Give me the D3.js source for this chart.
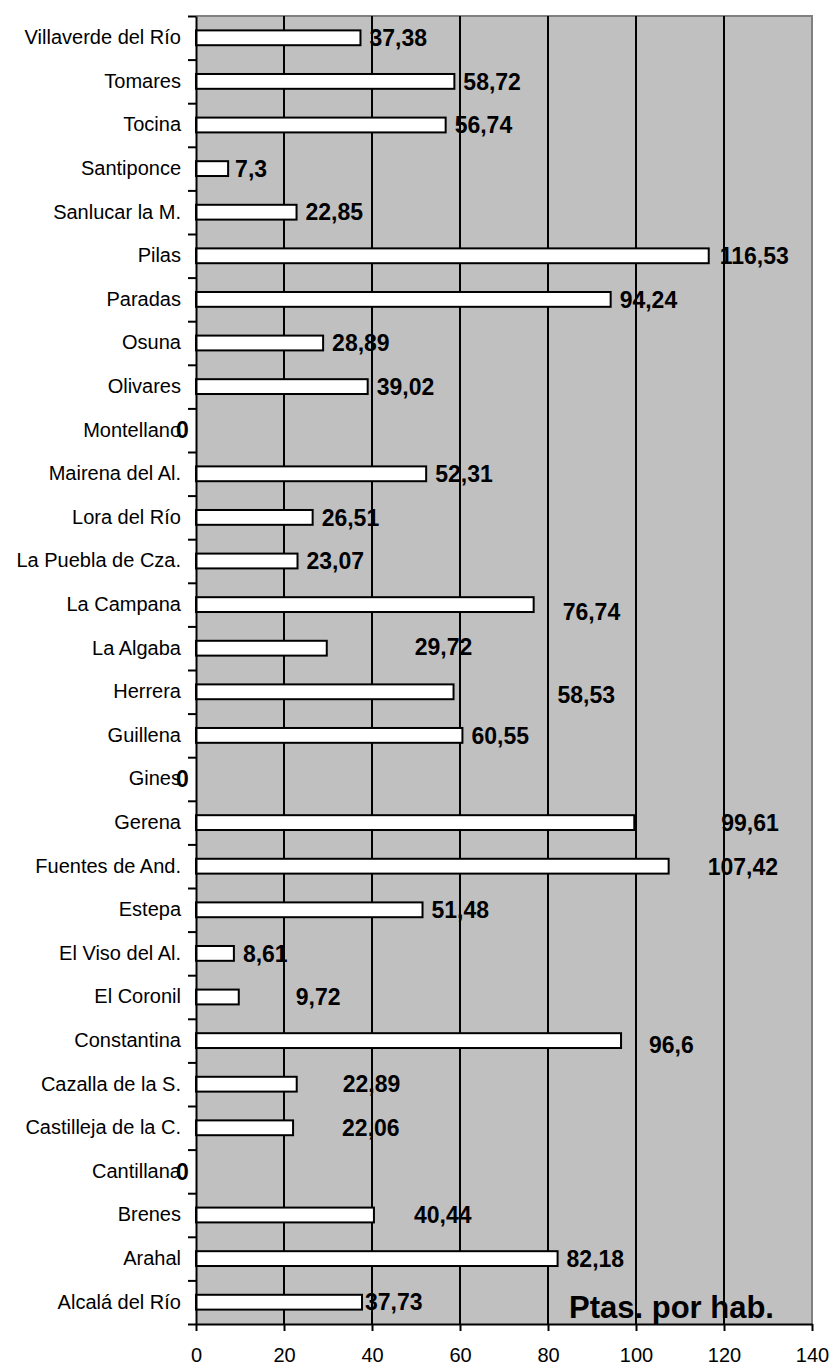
<!DOCTYPE html>
<html>
<head>
<meta charset="utf-8">
<script src="https://cdn.jsdelivr.net/npm/d3@7"></script>
<style>
  body { margin: 0; background: #fff; }
  text { font-family: "Liberation Sans", Arial, sans-serif; fill: #000; }
</style>
</head>
<body>
<svg id="chart" width="833" height="1365"></svg>
<script>
// Municipios, de arriba abajo, y su valor en pesetas por habitante
var municipios = ["Villaverde del Río", "Tomares", "Tocina", "Santiponce", "Sanlucar la M.",
	"Pilas", "Paradas", "Osuna", "Olivares", "Montellano", "Mairena del Al.", "Lora del Río",
	"La Puebla de Cza.", "La Campana", "La Algaba", "Herrera", "Guillena", "Gines", "Gerena",
	"Fuentes de And.", "Estepa", "El Viso del Al.", "El Coronil", "Constantina",
	"Cazalla de la S.", "Castilleja de la C.", "Cantillana", "Brenes", "Arahal", "Alcalá del Río"];
var ptasPorHab = [37.38, 58.72, 56.74, 7.3, 22.85, 116.53, 94.24, 28.89, 39.02, 0, 52.31, 26.51,
	23.07, 76.74, 29.72, 58.53, 60.55, 0, 99.61, 107.42, 51.48, 8.61, 9.72, 96.6,
	22.89, 22.06, 0, 40.44, 82.18, 37.73];
var xTicks = [0, 20, 40, 60, 80, 100, 120, 140];
var unidad = "Ptas. por hab.";

// labels that were dragged around by hand in the original (px nudge)
var labelNudge = [[0, 0], [0, 0], [0, 0], [-2, 0], [0, 0], [2, 0], [0, 0], [0, 0], [0, 0], [-29, 0],
	[0, 0], [0, 0], [0, 0], [20, 7], [79, -1], [95, 3], [0, 0], [-29, 0], [78, 0], [30, 1],
	[0, 0], [0, 0], [48, 0], [19, 4], [37, 0], [40, 0], [-29, 0], [31, 0], [0, 0], [-6, 0]];

var plotLeft = 196, plotRight = 812, plotTop = 16, plotBottom = 1324;

var svg = d3.select("#chart");

var x = d3.scaleLinear().domain([0, 140]).range([plotLeft, plotRight]);
var p = 0.66;
var y = d3.scaleBand().domain(municipios).range([plotTop, plotBottom]).paddingInner(p).paddingOuter(p / 2);
var yEdge = d3.scaleLinear().domain([0, municipios.length]).range([plotTop, plotBottom]);

var locale = d3.formatLocale({decimal: ",", thousands: ".", grouping: [3], currency: ["", ""]});
var fmt = locale.format("~g");

var idx = d3.range(municipios.length);

// plot area
svg.append("rect").attr("x", plotLeft).attr("y", plotTop)
	.attr("width", plotRight - plotLeft).attr("height", plotBottom - plotTop)
	.style("fill", "#c0c0c0");
svg.append("path").attr("d", "M" + plotLeft + "," + plotTop + "H" + plotRight + "V" + plotBottom)
	.style("fill", "none").style("stroke", "#808080").style("stroke-width", 2);

// gridlines
svg.selectAll("line.grid").data(xTicks.filter(function(t) { return t > 0 && t < 140; }))
	.enter().append("line").attr("class", "grid")
	.attr("x1", function(d) { return x(d); }).attr("x2", function(d) { return x(d); })
	.attr("y1", plotTop).attr("y2", plotBottom)
	.style("stroke", "#000").style("stroke-width", 2);

// bars (zero values have no bar)
svg.selectAll("rect.bar").data(idx.filter(function(i) { return ptasPorHab[i] > 0; }))
	.enter().append("rect").attr("class", "bar")
	.attr("x", x(0))
	.attr("y", function(i) { return y(municipios[i]); })
	.attr("width", function(i) { return x(ptasPorHab[i]) - x(0); })
	.attr("height", y.bandwidth())
	.style("fill", "#fff").style("stroke", "#000").style("stroke-width", 2);

// left axis: ticks on category boundaries, names on band centres
var yTicks = svg.append("g").attr("transform", "translate(" + plotLeft + ",0)")
	.call(d3.axisLeft(yEdge).tickValues(d3.range(municipios.length + 1)).tickFormat("").tickSize(8).tickSizeOuter(0));
yTicks.selectAll("line").style("stroke-width", 2);
yTicks.select(".domain").style("stroke-width", 2);

var yNames = svg.append("g").attr("transform", "translate(" + plotLeft + ",0)")
	.call(d3.axisLeft(y).tickSize(0).tickPadding(15));
yNames.select(".domain").remove();
yNames.selectAll("text").style("font-size", "20px").style("font-family", "'Liberation Sans', Arial, sans-serif");

// bottom axis
var xAxis = svg.append("g").attr("transform", "translate(0," + plotBottom + ")")
	.call(d3.axisBottom(x).tickValues(xTicks).tickSize(7).tickPadding(17).tickSizeOuter(0));
xAxis.selectAll("line").style("stroke-width", 2);
xAxis.select(".domain").style("stroke-width", 2);
xAxis.selectAll("text").style("font-size", "20px").style("font-family", "'Liberation Sans', Arial, sans-serif");

// value labels
svg.selectAll("text.val").data(idx).enter().append("text").attr("class", "val")
	.attr("x", function(i) { return x(ptasPorHab[i]) + 9 + labelNudge[i][0]; })
	.attr("y", function(i) { return y(municipios[i]) + y.bandwidth() / 2 + labelNudge[i][1]; })
	.attr("dy", "0.36em")
	.style("font-size", "23px").style("font-weight", "bold")
	.text(function(i) { return fmt(ptasPorHab[i]); });

// unit label
svg.append("text").attr("x", 569).attr("y", 1318)
	.style("font-size", "31px").style("font-weight", "bold")
	.text(unidad);
</script>
</body>
</html>
